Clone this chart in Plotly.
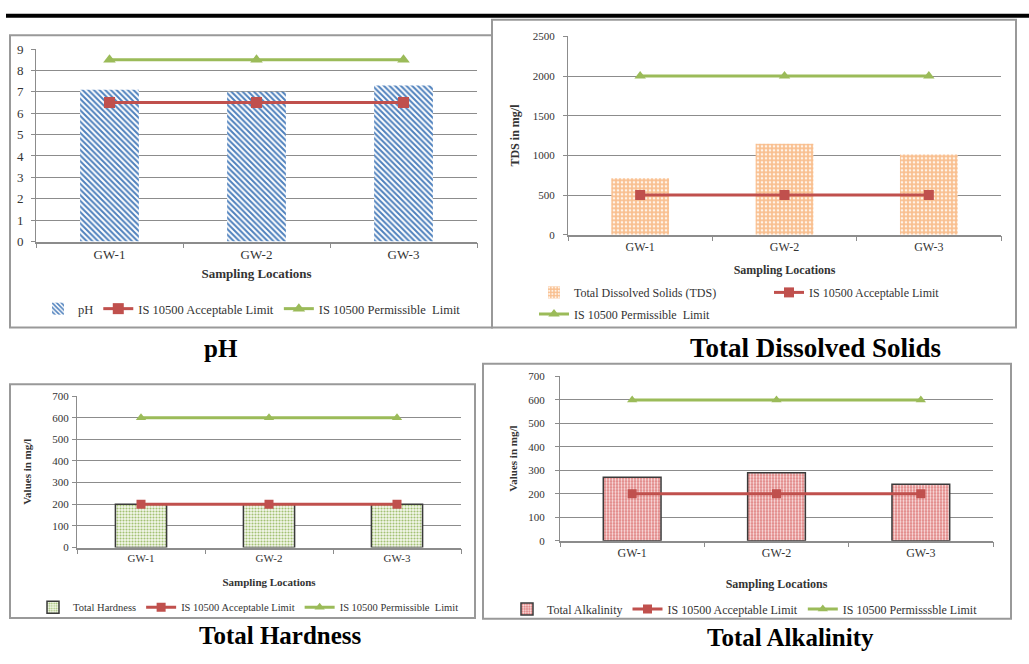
import plotly.graph_objects as go

W, H = 1029, 664

# ---- data -------------------------------------------------------------
locations = ["GW-1", "GW-2", "GW-3"]

ph_values = [7.1, 7.0, 7.3]
ph_acceptable = [6.5, 6.5, 6.5]
ph_permissible = [8.5, 8.5, 8.5]

tds_values = [712, 1145, 1010]
tds_acceptable = [500, 500, 500]
tds_permissible = [2000, 2000, 2000]

hardness_values = [200, 200, 200]
hardness_acceptable = [200, 200, 200]
hardness_permissible = [600, 600, 600]

alkalinity_values = [270, 290, 240]
alkalinity_acceptable = [200, 200, 200]
alkalinity_permissible = [600, 600, 600]

# ---- style ------------------------------------------------------------
SERIF = "Liberation Serif"
TXT = "#333333"
GRID = "#8c8c8c"
RED = "#C0504D"
GREEN = "#9BBB59"


def px(x):
    return x / W


def py(y):
    return 1 - y / H


fig = go.Figure()


def add_panel(n, bar_name, values, acc, perm, acc_name, perm_name,
              pattern, outline, msize, leg_bar, leg_acc, leg_perm):
    xa = "x" if n == 1 else f"x{n}"
    ya = "y" if n == 1 else f"y{n}"
    fig.add_trace(go.Bar(
        x=locations, y=values, name=bar_name, width=0.4,
        xaxis=xa, yaxis=ya, legend=leg_bar,
        marker=dict(color=pattern["bgcolor"], pattern=pattern,
                    line=outline),
    ))
    fig.add_trace(go.Scatter(
        x=locations, y=acc, name=acc_name, mode="lines+markers",
        xaxis=xa, yaxis=ya, legend=leg_acc,
        line=dict(color=RED, width=3),
        marker=dict(symbol="square", size=msize, color=RED),
    ))
    fig.add_trace(go.Scatter(
        x=locations, y=perm, name=perm_name, mode="lines+markers",
        xaxis=xa, yaxis=ya, legend=leg_perm,
        line=dict(color=GREEN, width=3),
        marker=dict(symbol="triangle-up", size=msize, color=GREEN),
    ))


no_line = dict(width=0)
dark_line = dict(color="#3a3a3a", width=1.5)

add_panel(1, "pH", ph_values, ph_acceptable, ph_permissible,
          "IS 10500 Acceptable Limit", "IS 10500 Permissible  Limit",
          dict(shape="\\", fgcolor="#4F81BD", bgcolor="white", size=4,
               solidity=0.5, fillmode="replace"),
          no_line, 11, "legend", "legend", "legend")

add_panel(2, "Total Dissolved Solids (TDS)", tds_values, tds_acceptable,
          tds_permissible,
          "IS 10500 Acceptable Limit", "IS 10500 Permissible  Limit",
          dict(shape=".", fgcolor="#FFF3E8", bgcolor="#F9BF8F", size=4,
               solidity=0.35, fillmode="replace"),
          no_line, 10, "legend2", "legend2", "legend3")

add_panel(3, "Total Hardness", hardness_values, hardness_acceptable,
          hardness_permissible,
          "IS 10500 Acceptable Limit", "IS 10500 Permissible  Limit",
          dict(shape=".", fgcolor="#A3C173", bgcolor="#F4F8EC", size=3,
               solidity=0.4, fillmode="replace"),
          dark_line, 9, "legend4", "legend4", "legend4")

add_panel(4, "Total Alkalinity", alkalinity_values, alkalinity_acceptable,
          alkalinity_permissible,
          "IS 10500 Acceptable Limit", "IS 10500 Permisssble Limit",
          dict(shape=".", fgcolor="#FBE4E4", bgcolor="#DD7B7A", size=3,
               solidity=0.45, fillmode="replace"),
          dark_line, 9, "legend5", "legend5", "legend5")


def xaxis_cfg(x0, x1, tick_size, title_size, standoff, label_gap=0):
    return dict(
        domain=[px(x0), px(x1)], type="category", range=[-0.5, 2.5],
        showline=True, linecolor=GRID, linewidth=1.5,
        ticks="outside", tickson="boundaries", ticklen=5, tickcolor=GRID,
        ticklabelstandoff=label_gap,
        showgrid=False, zeroline=False, fixedrange=True,
        tickfont=dict(family=SERIF, size=tick_size, color=TXT),
        title=dict(text="Sampling Locations", standoff=standoff,
                   font=dict(family=SERIF, size=title_size, color=TXT,
                             weight="bold")),
    )


def yaxis_cfg(y_top, y_bot, vmax, dtick, tick_size, anchor, label_gap,
              title=None, title_size=11, standoff=8):
    cfg = dict(
        domain=[py(y_bot), py(y_top)], range=[0, vmax], dtick=dtick,
        anchor=anchor, showline=True, linecolor=GRID, linewidth=1,
        showgrid=True, gridcolor=GRID, gridwidth=1, zeroline=False,
        ticks="outside", ticklen=4, tickcolor=GRID, fixedrange=True,
        ticklabelstandoff=label_gap,
        tickfont=dict(family=SERIF, size=tick_size, color=TXT),
    )
    if title:
        cfg["title"] = dict(text=title, standoff=standoff,
                            font=dict(family=SERIF, size=title_size,
                                      color=TXT, weight="bold"))
    return cfg


def legend_cfg(x, y, size, entrywidth=None):
    cfg = dict(
        x=px(x), y=py(y), xanchor="left", yanchor="middle",
        orientation="h", itemwidth=30, bgcolor="rgba(0,0,0,0)",
        font=dict(family=SERIF, size=size, color=TXT),
        traceorder="normal", itemclick=False, itemdoubleclick=False,
    )
    if entrywidth:
        cfg["entrywidth"] = entrywidth
        cfg["entrywidthmode"] = "pixels"
    return cfg


fig.update_layout(
    width=W, height=H, margin=dict(l=0, r=0, t=0, b=0),
    paper_bgcolor="white", plot_bgcolor="white",
    showlegend=True,
    xaxis=xaxis_cfg(36, 477, 13, 13, 8),
    yaxis=yaxis_cfg(43, 240, 9, 1, 13, "x", 5),
    xaxis2=dict(xaxis_cfg(568, 1001, 12, 12, 13), anchor="y2"),
    yaxis2=yaxis_cfg(30, 233, 2500, 500, 11, "x2", 6,
                     "TDS in mg/l", 12, 10),
    xaxis3=dict(xaxis_cfg(77, 461, 11, 11, 15), anchor="y3"),
    yaxis3=yaxis_cfg(398, 553, 700, 100, 11, "x3", 1,
                     "Values in mg/l", 11, 18),
    xaxis4=dict(xaxis_cfg(560, 993, 12, 12, 21), anchor="y4"),
    yaxis4=yaxis_cfg(378, 546, 700, 100, 11, "x4", 8,
                     "Values in mg/l", 11, 8),
    legend=legend_cfg(38, 309, 12.5),
    legend2=legend_cfg(534, 292, 12, entrywidth=190),
    legend3=legend_cfg(534, 314, 12),
    legend4=legend_cfg(33, 614, 10.5),
    legend5=legend_cfg(507, 616, 12),
)

# chart frames and the rule across the top of the page
frames = [(10, 29, 492, 328), (492, 13, 1016, 328),
          (10, 386, 475, 625), (483, 365, 1011, 626)]
for x0, y0, x1, y1 in frames:
    fig.add_shape(type="rect", xref="paper", yref="paper",
                  x0=px(x0), x1=px(x1), y0=py(y1), y1=py(y0),
                  line=dict(color="#999999", width=2), layer="below")
fig.add_shape(type="line", xref="paper", yref="paper",
              x0=px(6), x1=1, y0=py(9), y1=py(9),
              line=dict(color="black", width=4))

# panel captions
captions = [("pH", 221, 349, 25), ("Total Dissolved Solids", 815, 349, 27),
            ("Total Hardness", 280, 643, 25),
            ("Total Alkalinity", 790, 645, 25)]
for text, cx, cy, size in captions:
    fig.add_annotation(text=text, xref="paper", yref="paper",
                       x=px(cx), y=py(cy), showarrow=False,
                       xanchor="center", yanchor="middle",
                       font=dict(family=SERIF, size=size, color="black",
                                 weight="bold"))

fig.write_html("out.html")
